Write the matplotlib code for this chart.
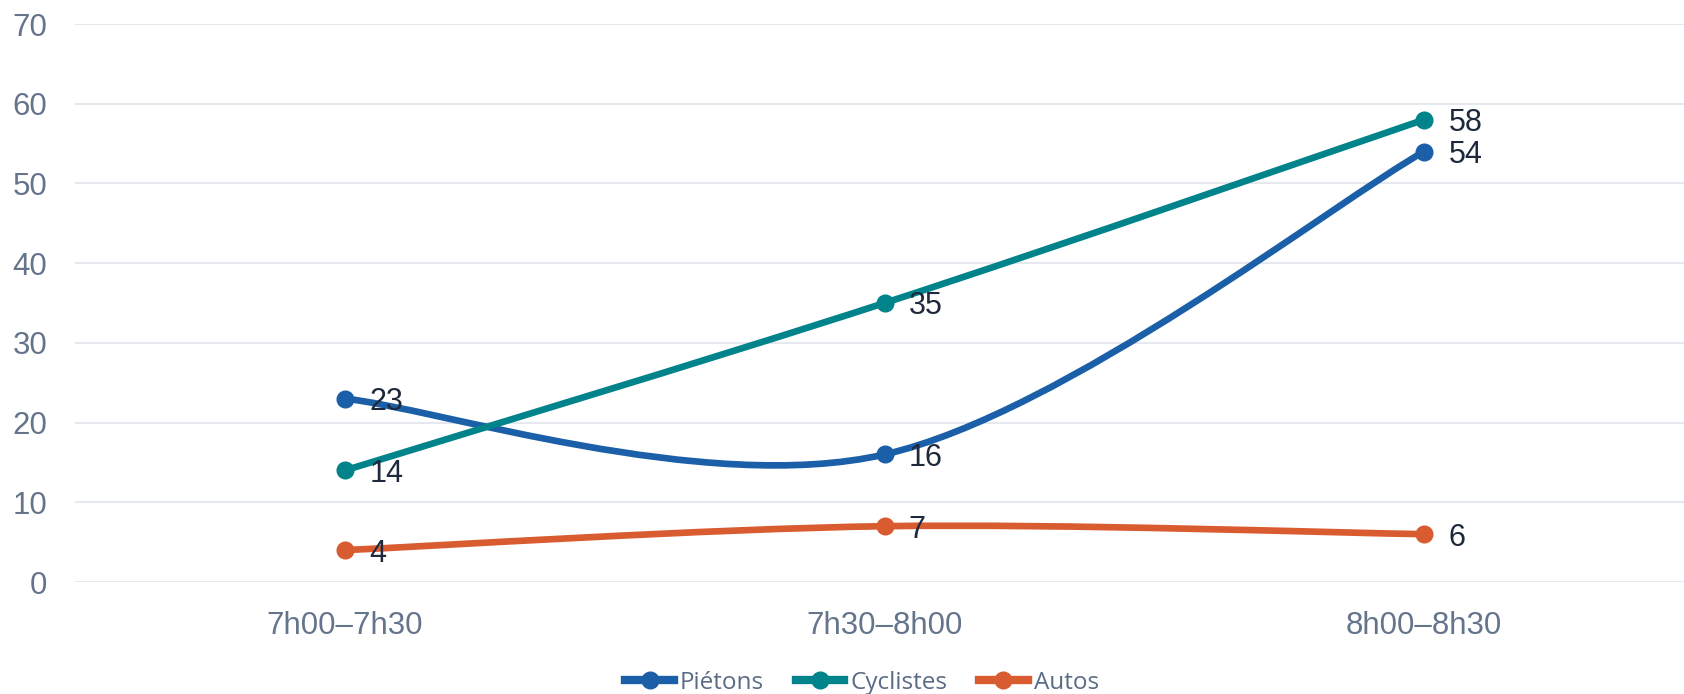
import numpy as np
import matplotlib
matplotlib.use("Agg")
import matplotlib.pyplot as plt
from matplotlib.path import Path
from matplotlib.patches import PathPatch
from matplotlib.lines import Line2D

categories = ["7h00–7h30", "7h30–8h00", "8h00–8h30"]
pietons = [23, 16, 54]
cyclistes = [14, 35, 58]
autos = [4, 7, 6]
series_names = ["Piétons", "Cyclistes", "Autos"]
colors = ["#1b5fa8", "#00838a", "#d95b30"]
yticks = [0, 10, 20, 30, 40, 50, 60, 70]

plt.rcParams['font.family'] = ['Liberation Sans', 'DejaVu Sans']

fig = plt.figure(figsize=(16.84, 6.94), dpi=100)
ax = fig.add_axes([75/1684, 1 - 582/694, 1619/1684, (582 - 24)/694])

def smooth_path(xs, ys):
    pts = np.column_stack([xs, ys]).astype(float)
    n = len(pts)
    verts = [pts[0]]
    codes = [Path.MOVETO]
    for i in range(n - 1):
        p0 = pts[i - 1] if i > 0 else pts[i]
        p1 = pts[i]
        p2 = pts[i + 1]
        p3 = pts[i + 2] if i + 2 < n else pts[i + 1]
        c1 = p1 + (p2 - p0) / 6.0
        c2 = p2 - (p3 - p1) / 6.0
        verts += [c1, c2, p2]
        codes += [Path.CURVE4] * 3
    return Path(verts, codes)

x = np.arange(len(categories))
handles = []
for name, vals, col in zip(series_names, [pietons, cyclistes, autos], colors):
    patch = PathPatch(smooth_path(x, vals), facecolor='none', edgecolor=col,
                      linewidth=4.8, capstyle='round', joinstyle='round', zorder=3)
    ax.add_patch(patch)
    ax.plot(x, vals, linestyle='none', marker='o', markersize=12,
            color=col, zorder=4)
    for xi, v in zip(x, vals):
        ax.annotate(str(v), (xi, v), xytext=(17.5, 0), textcoords='offset points',
                    ha='left', va='center_baseline', fontsize=22, color='#1e293b', zorder=5)
    handles.append(Line2D([0], [0], color=col, linewidth=6, marker='o',
                          markersize=12, label=name))

ax.set_xlim(-0.5, 2.5)
ax.set_ylim(0, 70)
ax.set_yticks(yticks)
ax.set_xticks(x)
ax.set_xticklabels(categories)
ax.tick_params(axis='both', length=0, labelsize=22.5, labelcolor='#64748b')
ax.tick_params(axis='y', pad=20)
ax.tick_params(axis='x', pad=21)
ax.grid(axis='y', color='#e5e8ee', linewidth=1.5)
ax.set_axisbelow(True)
for s in ax.spines.values():
    s.set_visible(False)

leg = fig.legend(handles=handles, loc='center', bbox_to_anchor=(862/1684, 1 - 683/694),
                 ncol=3, frameon=False, handlelength=2.0,
                 columnspacing=1.3, handletextpad=0.25,
                 prop={'family': ['Open Sans', 'DejaVu Sans'], 'size': 17.5})
for t in leg.get_texts():
    t.set_color('#5a6b85')

fig.savefig("out.png", dpi=100)
